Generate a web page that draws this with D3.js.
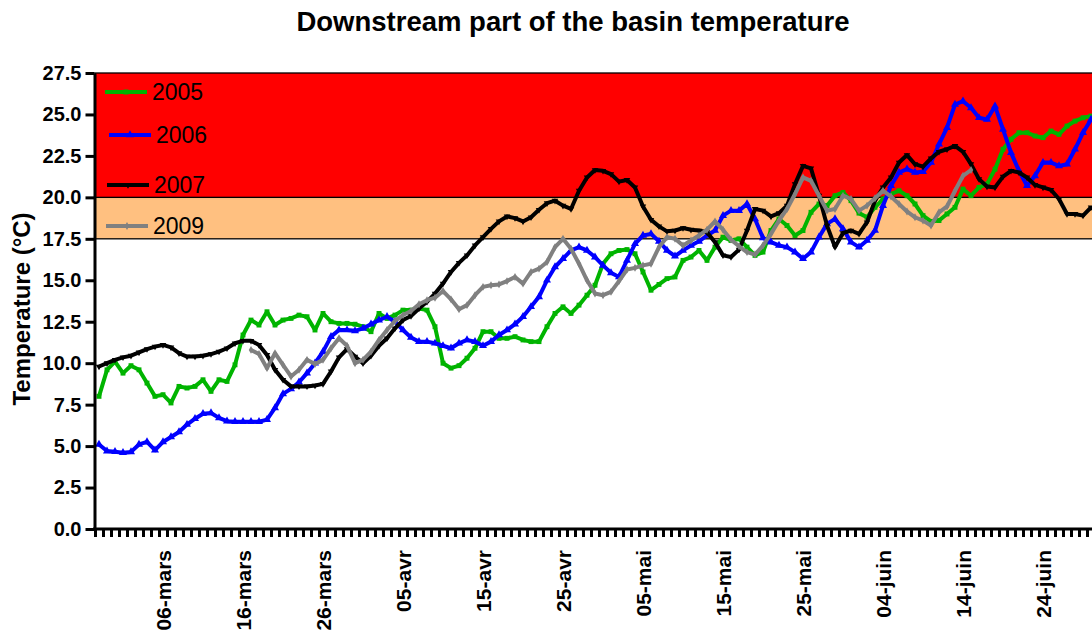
<!DOCTYPE html>
<html>
<head>
<meta charset="utf-8">
<script src="https://cdn.jsdelivr.net/npm/d3@7"></script>
<style>
  body { margin: 0; background: #fff; }
  svg { display: block; font-family: "Liberation Sans", Arial, sans-serif; }
</style>
</head>
<body>
<svg id="chart" width="1092" height="639"></svg>
<script>
// daily water temperature, day 0 = 26 Feb
const t2005 = [8.0, 9.6, 10.1, 9.4, 9.85, 9.6, 8.8, 8.0, 8.1, 7.6,
  8.6, 8.5, 8.6, 9.0, 8.3, 9.0, 8.9, 9.9, 11.7, 12.6,
  12.3, 13.1, 12.3, 12.6, 12.7, 12.9, 12.8, 12.0, 13.0, 12.5,
  12.4, 12.4, 12.35, 12.2, 11.9, 13.0, 12.7, 12.9, 13.2, 13.2,
  13.3, 13.2, 12.2, 10.0, 9.7, 9.85, 10.3, 10.9, 11.9, 11.9,
  11.5, 11.5, 11.6, 11.4, 11.3, 11.3, 12.2, 13.0, 13.4, 13.0,
  13.5, 14.1, 14.7, 16.0, 16.6, 16.8, 16.85, 16.6, 15.5, 14.4,
  14.75, 15.1, 15.2, 16.2, 16.4, 16.8, 16.2, 17.0, 17.6, 17.4,
  17.5, 17.0, 16.5, 16.7, 18.0, 18.7, 18.3, 17.7, 18.0, 19.1,
  19.6, 19.5, 20.1, 20.3, 19.8, 19.05, 18.8, 19.4, 19.9, 20.2,
  20.4, 20.1, 19.6, 18.9, 18.55, 18.6, 19.0, 19.4, 20.5, 20.1,
  20.6, 20.8, 21.7, 22.9, 23.5, 23.9, 23.9, 23.7, 23.6, 24.0,
  23.8, 24.3, 24.6, 24.8, 24.9];
const t2006 = [5.1, 4.7, 4.66, 4.6, 4.65, 5.1, 5.25, 4.75, 5.25, 5.55,
  5.85, 6.3, 6.65, 6.95, 7.0, 6.7, 6.5, 6.47, 6.47, 6.47,
  6.47, 6.6, 7.3, 8.15, 8.45, 8.85, 9.4, 10.0, 10.7, 11.6,
  12.0, 12.0, 11.95, 12.1, 12.35, 12.6, 12.8, 12.5, 12.0, 11.55,
  11.3, 11.3, 11.2, 11.05, 10.9, 11.2, 11.4, 11.3, 11.05, 11.3,
  11.7, 12.0, 12.35, 12.8, 13.4, 14.0, 15.0, 15.8, 16.3, 16.8,
  17.0, 16.8, 16.4, 15.9, 15.45, 15.2, 16.2, 17.2, 17.7, 17.8,
  17.35, 16.8, 16.45, 16.8, 17.1, 17.35, 17.7, 18.0, 18.9, 19.2,
  19.2, 19.6, 18.7, 17.55, 17.3, 17.1, 17.0, 16.7, 16.3, 16.7,
  17.6, 18.4, 18.7, 18.1, 17.3, 17.0, 17.4, 18.0, 19.5, 20.7,
  21.5, 21.7, 21.5, 21.55, 22.1, 23.2, 24.2, 25.6, 25.8, 25.4,
  24.8, 24.7, 25.5, 24.1, 22.7, 21.6, 20.7, 21.3, 22.1, 22.1,
  21.9, 22.0, 22.9, 23.9, 24.7];
const t2007 = [9.8, 10.0, 10.2, 10.35, 10.45, 10.65, 10.85, 11.0, 11.1, 10.95,
  10.6, 10.4, 10.4, 10.45, 10.55, 10.7, 10.9, 11.2, 11.35, 11.35,
  11.1, 10.5, 9.6, 9.0, 8.6, 8.6, 8.6, 8.65, 8.75, 9.5,
  10.35, 10.85, 10.4, 10.0, 10.45, 11.05, 11.5, 12.1, 12.6, 12.85,
  13.3, 13.7, 14.2, 14.8, 15.5, 16.05, 16.5, 17.1, 17.6, 18.1,
  18.55, 18.85, 18.75, 18.55, 18.8, 19.25, 19.65, 19.8, 19.5, 19.3,
  20.4, 21.2, 21.65, 21.6, 21.4, 20.95, 21.05, 20.6, 19.45, 18.65,
  18.25, 17.95, 18.0, 18.15, 18.05, 18.0, 17.9, 17.3, 16.5, 16.4,
  16.85, 18.0, 19.3, 19.2, 18.85, 19.05, 19.5, 20.8, 21.9, 21.75,
  20.1, 18.3, 17.0, 17.85, 18.0, 17.8, 18.5, 19.8, 20.6, 21.2,
  22.1, 22.55, 22.0, 21.85, 22.35, 22.75, 22.9, 23.1, 22.75, 22.0,
  21.1, 20.65, 20.6, 21.25, 21.6, 21.5, 21.2, 20.75, 20.6, 20.45,
  19.9, 19.0, 19.0, 18.9, 19.4];
// 2009 series only starts on 17 March (day 19)
const start2009 = 19;
const t2009 = [10.8, 10.55, 9.7, 10.6, 9.9, 9.2, 9.6, 10.2, 9.95, 10.2,
  10.9, 11.5, 11.05, 10.0, 10.2, 10.7, 11.4, 12.0, 12.55, 12.9,
  13.15, 13.55, 13.8, 13.95, 14.35, 13.85, 13.25, 13.5, 14.1, 14.6,
  14.7, 14.75, 14.95, 15.2, 14.8, 15.5, 15.7, 16.1, 17.0, 17.5,
  16.9, 16.0, 15.0, 14.2, 14.1, 14.3, 14.95, 15.65, 15.75, 15.9,
  16.0, 17.0, 17.6, 17.5, 17.1, 17.4, 17.7, 18.05, 18.55, 18.05,
  17.45, 17.05, 16.7, 16.55, 17.1, 17.8, 18.6, 19.3, 20.2, 21.2,
  21.0, 20.1, 19.2, 19.3, 20.1, 19.9, 19.2, 19.5, 19.95, 20.4,
  20.05, 19.6, 19.15, 18.8, 18.6, 18.3, 19.1, 19.45, 20.4, 21.3, 21.65];

const years = ["2005", "2006", "2007", "2009"];
const colors = ["#00b400", "#0000ff", "#000000", "#808080"];
const tickDays = [8, 18, 28, 38, 48, 58, 68, 78, 88, 98, 108, 118];
const tickLabels = ["06-mars", "16-mars", "26-mars", "05-avr", "15-avr", "25-avr",
  "05-mai", "15-mai", "25-mai", "04-juin", "14-juin", "24-juin"];
const yTicks = [0, 2.5, 5, 7.5, 10, 12.5, 15, 17.5, 20, 22.5, 25, 27.5];
const bandLimits = [17.5, 20, 27.5];
const bandColors = ["#ffc080", "#ff0000"];

const svg = d3.select("#chart");
const x = d3.scaleLinear().domain([0, 124]).range([99, 1091]);
const y = d3.scaleLinear().domain([0, 27.5]).range([529, 73]);

const toPoints = (vals, start = 0) => vals.map((v, i) => ({ d: start + i, v }));
const series = [
  { name: years[0], color: colors[0], sym: d3.symbolSquare, rot: 0, size: 24, pts: toPoints(t2005) },
  { name: years[1], color: colors[1], sym: d3.symbolTriangle, rot: 0, size: 28, pts: toPoints(t2006) },
  { name: years[2], color: colors[2], sym: d3.symbolTriangle, rot: 180, size: 18, pts: toPoints(t2007) },
  { name: years[3], color: colors[3], sym: d3.symbolDiamond, rot: 0, size: 18, pts: toPoints(t2009, start2009) }
];

// threshold bands
svg.append("g").selectAll("rect")
  .data(bandColors)
  .enter().append("rect")
  .attr("x", 95)
  .attr("width", 1010)
  .attr("y", (d, i) => y(bandLimits[i + 1]))
  .attr("height", (d, i) => y(bandLimits[i]) - y(bandLimits[i + 1]))
  .attr("fill", d => d)
  .attr("stroke", "#000")
  .attr("stroke-width", 1.3);

// title
svg.append("text")
  .attr("x", 573).attr("y", 31)
  .attr("text-anchor", "middle")
  .style("font-size", "27.5px").style("font-weight", "bold")
  .text("Downstream part of the basin temperature");

// series
const line = d3.line().x(p => x(p.d)).y(p => y(p.v));
series.forEach(s => {
  const g = svg.append("g");
  g.append("path")
    .attr("d", line(s.pts))
    .attr("fill", "none")
    .attr("stroke", s.color)
    .attr("stroke-width", 4)
    .attr("stroke-linejoin", "round");
  g.selectAll("path.mk")
    .data(s.pts)
    .enter().append("path")
    .attr("class", "mk")
    .attr("d", d3.symbol().type(s.sym).size(s.size))
    .attr("fill", s.color)
    .attr("transform", p => `translate(${x(p.d)},${y(p.v)}) rotate(${s.rot})`);
});

// legend
const legendY = [92, 135, 185, 226];
const legendX = [105, 109, 107, 106];
const leg = svg.append("g");
series.forEach((s, i) => {
  leg.append("line")
    .attr("x1", legendX[i]).attr("x2", legendX[i] + 42)
    .attr("y1", legendY[i]).attr("y2", legendY[i])
    .attr("stroke", s.color).attr("stroke-width", 4);
  leg.append("path")
    .attr("d", d3.symbol().type(s.sym).size(s.size))
    .attr("fill", s.color)
    .attr("transform", `translate(${legendX[i] + 21},${legendY[i]}) rotate(${s.rot})`);
  leg.append("text")
    .attr("x", legendX[i] + 47).attr("y", legendY[i] + 8)
    .style("font-size", "23px")
    .text(s.name);
});

// y axis
const yAxis = svg.append("g")
  .attr("transform", "translate(94.5,0)")
  .call(d3.axisLeft(y).tickValues(yTicks).tickFormat(d3.format(".1f")).tickSize(9).tickSizeOuter(0));
yAxis.select(".domain").attr("stroke-width", 3);
yAxis.selectAll(".tick line").attr("stroke-width", 3);
yAxis.selectAll(".tick text")
  .attr("x", -13)
  .style("font-size", "20px").style("font-weight", "bold").attr("fill", "#000");

svg.append("text")
  .attr("transform", "translate(30,309) rotate(-90)")
  .attr("text-anchor", "middle")
  .style("font-size", "24px").style("font-weight", "bold")
  .text("Temperature (°C)");

// x axis: one tick per day
const dayEdges = d3.range(-0.5, 124.6, 1);
const xAxis = svg.append("g")
  .attr("transform", "translate(0,529)")
  .call(d3.axisBottom(x).tickValues(dayEdges).tickFormat("").tickSize(8).tickSizeOuter(0));
xAxis.select(".domain").attr("stroke-width", 3).attr("d", "M93,0H1092");
xAxis.selectAll(".tick line").attr("stroke-width", 3);

const xLabels = svg.append("g")
  .attr("transform", "translate(0,529)")
  .call(d3.axisBottom(x).tickValues(tickDays).tickFormat((d, i) => tickLabels[i]).tickSize(0));
xLabels.select(".domain").remove();
xLabels.selectAll(".tick text")
  .attr("transform", "translate(0,21) rotate(-90)")
  .attr("x", 0).attr("y", 0).attr("dy", "0.35em")
  .attr("text-anchor", "end")
  .style("font-size", "21px").style("font-weight", "bold").attr("fill", "#000");
</script>
</body>
</html>
